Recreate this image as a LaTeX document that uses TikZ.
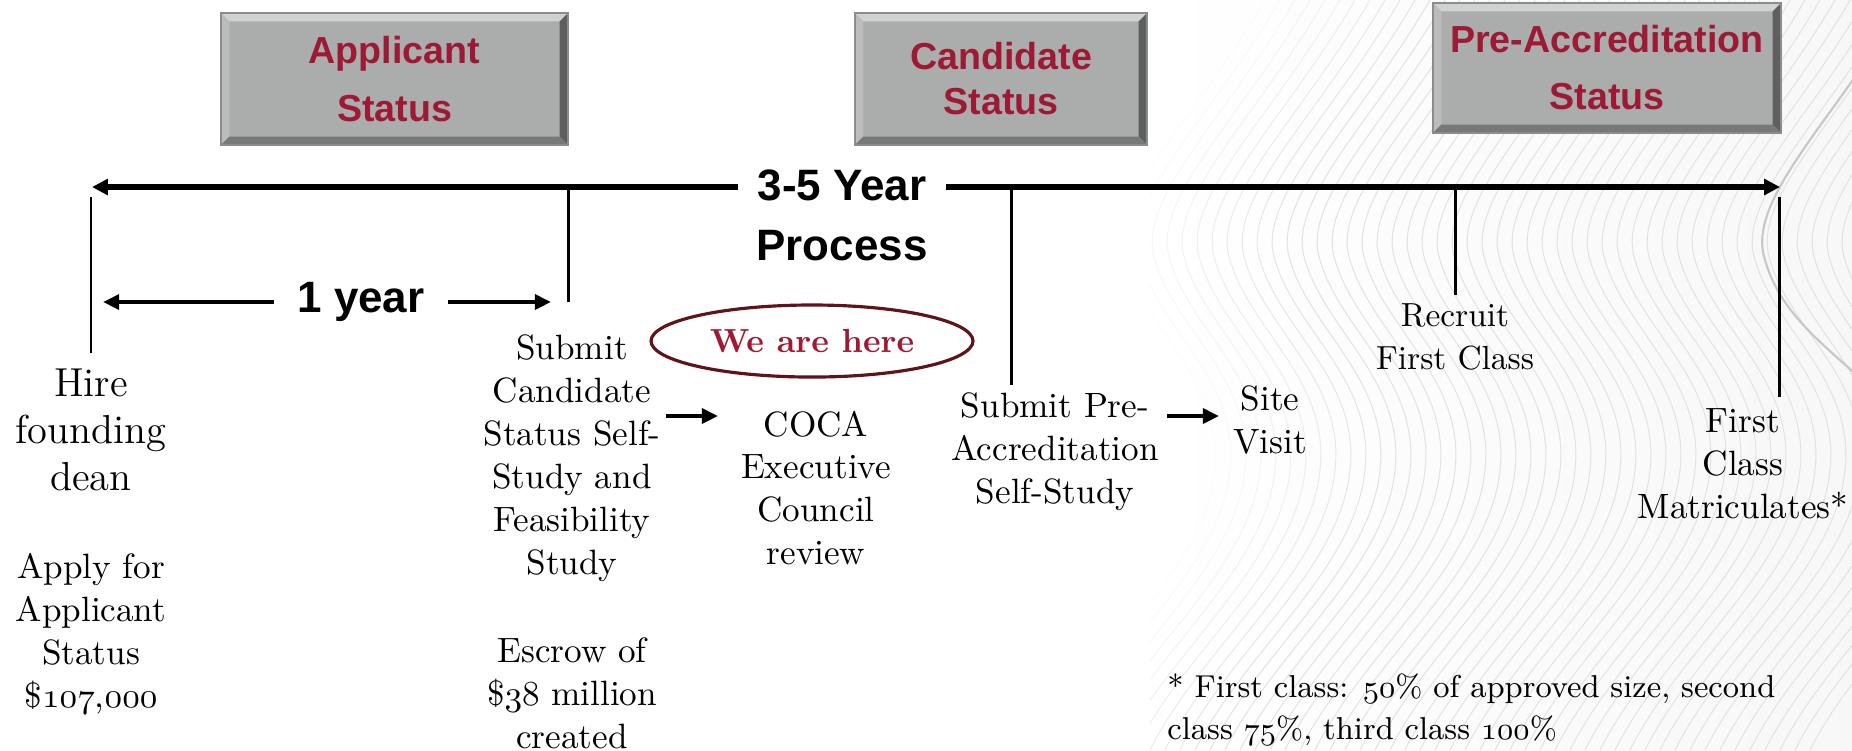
\documentclass[tikz,border=0pt]{standalone}
\usepackage{fontspec}
\newfontfamily\hdfont{Liberation Sans}
\usetikzlibrary{arrows.meta,shapes.geometric}
\definecolor{boxgray}{RGB}{170,173,172}
\definecolor{statred}{RGB}{158,26,52}
\definecolor{ovalred}{RGB}{95,20,28}
\newcommand{\osf}[1]{{\fontencoding{OML}\fontfamily{cmm}\fontseries{m}\fontshape{it}\selectfont #1}}
\tikzset{
  txt/.style={align=center,font=\fontsize{10}{12.2}\selectfont},
  bigtxt/.style={align=center,font=\hdfont\bfseries\fontsize{12.5}{17}\selectfont},
  statusbox/.style={draw=black!45,line width=0.5pt,fill=boxgray,text=statred,align=center,
    font=\hdfont\bfseries\fontsize{10.7}{16.5}\selectfont,
    path picture={
      \fill[boxgray!55!white] (path picture bounding box.north west) -- (path picture bounding box.north east)
        -- ([shift={(-2.4pt,-2.4pt)}]path picture bounding box.north east) -- ([shift={(2.4pt,-2.4pt)}]path picture bounding box.north west) -- cycle;
      \fill[boxgray!80!white] (path picture bounding box.north west) -- ([shift={(2.4pt,-2.4pt)}]path picture bounding box.north west)
        -- ([shift={(2.4pt,2.4pt)}]path picture bounding box.south west) -- (path picture bounding box.south west) -- cycle;
      \fill[boxgray!55!black] (path picture bounding box.north east) -- ([shift={(-2.4pt,-2.4pt)}]path picture bounding box.north east)
        -- ([shift={(-2.4pt,2.4pt)}]path picture bounding box.south east) -- (path picture bounding box.south east) -- cycle;
      \fill[boxgray!70!black] (path picture bounding box.south west) -- ([shift={(2.4pt,2.4pt)}]path picture bounding box.south west)
        -- ([shift={(-2.4pt,2.4pt)}]path picture bounding box.south east) -- (path picture bounding box.south east) -- cycle;
    }},
  bigline/.style={line width=1.6pt,-{Triangle[length=4.5pt,width=4.4pt]}},
  midarrow/.style={line width=1.15pt,-{Triangle[length=4.6pt,width=4.2pt]}},
  tick/.style={line width=0.85pt},
  wave/.style={black!11,line width=0.3pt}
}
\begin{document}
\begin{tikzpicture}[x=0.01cm,y=-0.01cm]
\useasboundingbox (0,0) rectangle (1852,750);
\shade[left color=white,right color=black!3] (1150,0) rectangle (1852,750);
\begin{scope}
\clip (1150,0) rectangle (1852,750);
\foreach \k in {0,...,52}{
  \pgfmathsetmacro\xo{1120+15*\k}
  \pgfmathsetmacro\op{min(1,\k/12)}
  \draw[wave,opacity=\op] (\xo+130,0) .. controls (\xo+60,120) and (\xo-30,200) .. (\xo-10,260)
    .. controls (\xo+10,330) and (\xo+90,380) .. (\xo+80,470) .. controls (\xo+70,570) and (\xo-40,650) .. (\xo-90,750);
}
\draw[black!22,line width=0.6pt] (1905,0) .. controls (1835,120) and (1745,200) .. (1765,260)
  .. controls (1785,330) and (1852,360) .. (1900,420);
\end{scope}

\node[statusbox,minimum width=3.47cm,minimum height=1.32cm] (applicant) at (394.5,79) {Applicant\\Status};
\node[statusbox,minimum width=2.92cm,minimum height=1.32cm,font=\hdfont\bfseries\fontsize{10.7}{12.8}\selectfont] (candidate) at (1001,79) {Candidate\\Status};
\node[statusbox,minimum width=3.48cm,minimum height=1.30cm,font=\hdfont\bfseries\fontsize{10.7}{16.2}\selectfont] (preacc) at (1607,68) {Pre-Accreditation\\Status};

\node[bigtxt,inner xsep=5pt] (span) at (842,215) {3-5 Year\\Process};
\node[bigtxt,inner xsep=6.5pt] (oneyr) at (361,302) {1 year};

\node[txt,font=\fontsize{11.5}{13.3}\selectfont] (hire) at (91,430) {Hire\\founding\\dean};
\node[txt] (apply) at (91,634) {Apply for\\Applicant\\Status\\\$\osf{107},\osf{000}};
\node[txt] (submit) at (572,458) {Submit\\Candidate\\Status Self-\\Study and\\Feasibility\\Study};
\node[txt] (escrow) at (572,693) {Escrow of\\\$\osf{38} million\\created};
\node[draw=ovalred,line width=0.9pt,ellipse,minimum width=2.96cm,minimum height=0.72cm,text=statred,font=\bfseries\fontsize{9.5}{11}\selectfont] (here) at (812,341) {We are here};
\node[txt] (coca) at (816,488) {COCA\\Executive\\Council\\review};
\node[txt] (selfstudy) at (1055,452) {Submit Pre-\\Accreditation\\Self-Study};
\node[txt] (site) at (1270,420) {Site\\Visit};
\node[txt,font=\fontsize{9.5}{12}\selectfont] (recruit) at (1455,337) {Recruit\\First Class};
\node[txt] (matric) at (1743,464) {First\\Class\\Matriculates*};
\node[align=left,anchor=west,font=\fontsize{9}{12}\selectfont] (note) at (1155,710) {* First class: \osf{50}\% of approved size, second\\class \osf{75}\%, third class \osf{100}\%};

\coordinate (lstart) at (92,187);
\coordinate (rend) at (1780,187);
\draw[bigline] (span.west |- lstart) -- (lstart);
\draw[bigline] (span.east |- rend) -- (rend);

\foreach \n/\x/\a/\b in {a/91/197/353, b/568/187/302, c/1011/187/385, d/1455/187/295, e/1779/197/397}{
  \coordinate (top\n) at (\x,\a);
  \coordinate (bot\n) at (\x,\b);
  \draw[tick] (top\n) -- (bot\n);
}

\coordinate (yl) at (103,302);
\coordinate (yr) at (551,302);
\draw[midarrow] (oneyr) -- (yl);
\draw[midarrow] (oneyr) -- (yr);

\coordinate (s1) at (666,416);
\coordinate (s2) at (718,416);
\coordinate (s3) at (1167,416);
\coordinate (s4) at (1219,416);
\draw[midarrow] (s1) -- (s2);
\draw[midarrow] (s3) -- (s4);
\end{tikzpicture}
\end{document}
